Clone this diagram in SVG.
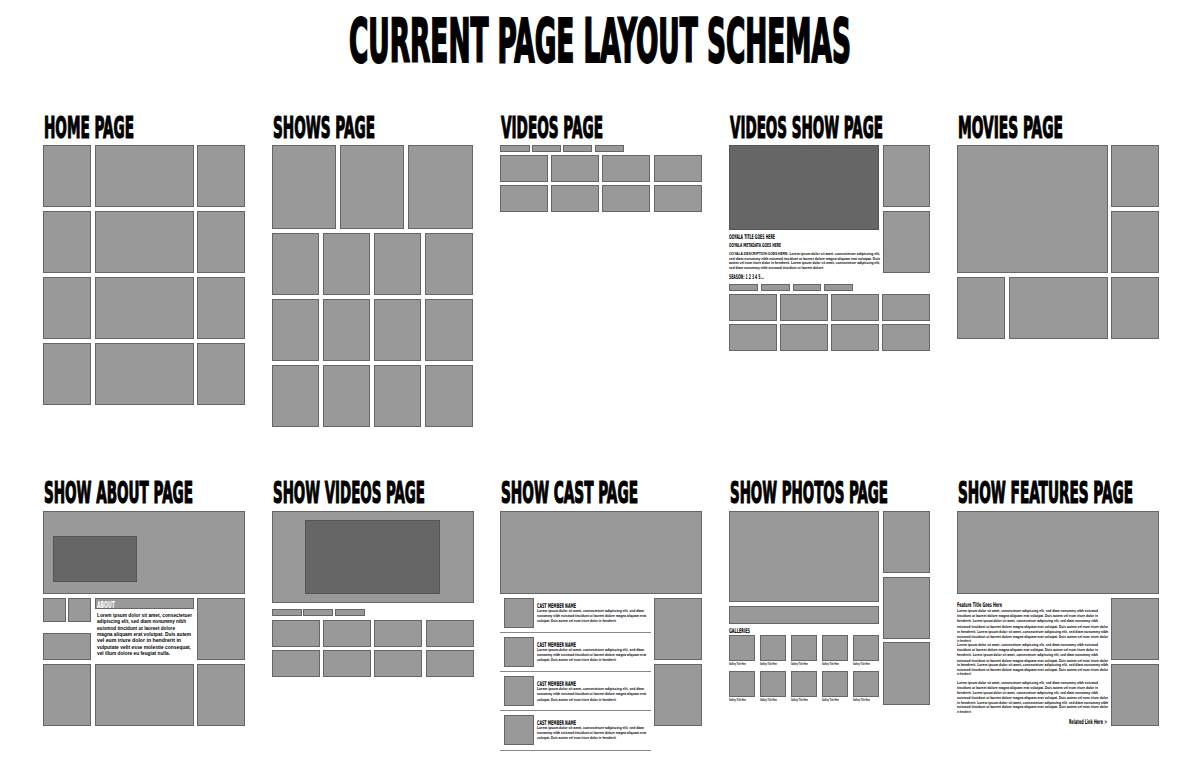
<svg xmlns="http://www.w3.org/2000/svg" width="1200" height="763" viewBox="0 0 1200 763">
<style>
.b{fill:#999;stroke:#666;stroke-width:1}
.d{fill:#666;stroke:#555;stroke-width:1}
.ln{stroke:#888;stroke-width:1.2}
.h{font-family:"Liberation Sans Narrow","DejaVu Sans Condensed","Liberation Sans",sans-serif;font-weight:bold;fill:#000}
.hd{font-family:"Liberation Sans Narrow","DejaVu Sans Condensed","Liberation Sans",sans-serif;font-weight:bold;fill:#000;stroke:#000;stroke-width:0.6;font-size:15px}
.t{font-family:"Liberation Sans","DejaVu Sans",sans-serif;font-weight:bold;fill:#000}
</style>
<rect width="1200" height="763" fill="#fff"/>
<text class="hd" transform="translate(349,62) scale(1,2.08)" x="0" y="0" style="font-size:29px;stroke-width:1" textLength="502" lengthAdjust="spacingAndGlyphs">CURRENT PAGE LAYOUT SCHEMAS</text>

<g id="home-page">
<text class="hd" transform="translate(44,138) scale(1,2)" textLength="90" lengthAdjust="spacingAndGlyphs">HOME PAGE</text>
<rect class="b" x="43.5" y="145.5" width="47" height="61"/><rect class="b" x="95.5" y="145.5" width="98" height="61"/><rect class="b" x="197.5" y="145.5" width="47" height="61"/>
<rect class="b" x="43.5" y="211.5" width="47" height="61"/><rect class="b" x="95.5" y="211.5" width="98" height="61"/><rect class="b" x="197.5" y="211.5" width="47" height="61"/>
<rect class="b" x="43.5" y="277.5" width="47" height="61"/><rect class="b" x="95.5" y="277.5" width="98" height="61"/><rect class="b" x="197.5" y="277.5" width="47" height="61"/>
<rect class="b" x="43.5" y="343.5" width="47" height="61"/><rect class="b" x="95.5" y="343.5" width="98" height="61"/><rect class="b" x="197.5" y="343.5" width="47" height="61"/>
</g>

<g id="shows-page">
<text class="hd" transform="translate(273,138) scale(1,2)" textLength="102" lengthAdjust="spacingAndGlyphs">SHOWS PAGE</text>
<rect class="b" x="272.5" y="145.5" width="63" height="83"/><rect class="b" x="340.5" y="145.5" width="63" height="83"/><rect class="b" x="408.5" y="145.5" width="64" height="83"/>
<rect class="b" x="272.5" y="233.5" width="46" height="61"/><rect class="b" x="323.5" y="233.5" width="46" height="61"/><rect class="b" x="374.5" y="233.5" width="46" height="61"/><rect class="b" x="425.5" y="233.5" width="47" height="61"/>
<rect class="b" x="272.5" y="299.5" width="46" height="61"/><rect class="b" x="323.5" y="299.5" width="46" height="61"/><rect class="b" x="374.5" y="299.5" width="46" height="61"/><rect class="b" x="425.5" y="299.5" width="47" height="61"/>
<rect class="b" x="272.5" y="365.5" width="46" height="61"/><rect class="b" x="323.5" y="365.5" width="46" height="61"/><rect class="b" x="374.5" y="365.5" width="46" height="61"/><rect class="b" x="425.5" y="365.5" width="47" height="61"/>
</g>

<g id="videos-page">
<text class="hd" transform="translate(501,138) scale(1,2)" textLength="102" lengthAdjust="spacingAndGlyphs">VIDEOS PAGE</text>
<rect class="b" x="500.5" y="145.5" width="29" height="6"/><rect class="b" x="532.5" y="145.5" width="28" height="6"/><rect class="b" x="563.5" y="145.5" width="28" height="6"/><rect class="b" x="595.5" y="145.5" width="28" height="6"/>
<rect class="b" x="500.5" y="155.5" width="47" height="26"/><rect class="b" x="551.5" y="155.5" width="47" height="26"/><rect class="b" x="602.5" y="155.5" width="47" height="26"/><rect class="b" x="654.5" y="155.5" width="47" height="26"/>
<rect class="b" x="500.5" y="185.5" width="47" height="26"/><rect class="b" x="551.5" y="185.5" width="47" height="26"/><rect class="b" x="602.5" y="185.5" width="47" height="26"/><rect class="b" x="654.5" y="185.5" width="47" height="26"/>
</g>

<g id="videos-show-page">
<text class="hd" transform="translate(730,138) scale(1,2)" textLength="153" lengthAdjust="spacingAndGlyphs">VIDEOS SHOW PAGE</text>
<rect class="d" x="729.5" y="145.5" width="149" height="84"/>
<rect class="b" x="883.5" y="145.5" width="46" height="61"/><rect class="b" x="883.5" y="211.5" width="46" height="61"/>
<text class="h" x="729" y="238.5" font-size="6.5" textLength="46" lengthAdjust="spacingAndGlyphs">OOYALA TITLE GOES HERE</text>
<text class="h" x="729" y="247" font-size="5.5" textLength="52" lengthAdjust="spacingAndGlyphs">OOYALA METADATA GOES HERE</text>
<text class="t" font-size="4.2">
<tspan x="729" y="255" textLength="151" lengthAdjust="spacingAndGlyphs">OOYALA DESCRIPTION GOES HERE: Lorem ipsum dolor sit amet, consectetuer adipiscing elit,</tspan>
<tspan x="729" y="259.5" textLength="151" lengthAdjust="spacingAndGlyphs">sed diam nonummy nibh euismod tincidunt ut laoreet dolore magna aliquam erat volutpat. Duis</tspan>
<tspan x="729" y="264" textLength="151" lengthAdjust="spacingAndGlyphs">autem vel eum iriure dolor in hendrerit. Lorem ipsum dolor sit amet, consectetuer adipiscing elit,</tspan>
<tspan x="729" y="268.5" textLength="95" lengthAdjust="spacingAndGlyphs">sed diam nonummy nibh euismod tincidunt ut laoreet dolore.</tspan>
</text>
<text class="h" x="729" y="279" font-size="6.5" textLength="35" lengthAdjust="spacingAndGlyphs">SEASON: 1 2 3 4 5...</text>
<rect class="b" x="729.5" y="284.5" width="28" height="6"/><rect class="b" x="761.5" y="284.5" width="28" height="6"/><rect class="b" x="793.5" y="284.5" width="27" height="6"/><rect class="b" x="824.5" y="284.5" width="28" height="6"/>
<rect class="b" x="729.5" y="294.5" width="47" height="26"/><rect class="b" x="780.5" y="294.5" width="47" height="26"/><rect class="b" x="831.5" y="294.5" width="47" height="26"/><rect class="b" x="882.5" y="294.5" width="47" height="26"/>
<rect class="b" x="729.5" y="324.5" width="47" height="26"/><rect class="b" x="780.5" y="324.5" width="47" height="26"/><rect class="b" x="831.5" y="324.5" width="47" height="26"/><rect class="b" x="882.5" y="324.5" width="47" height="26"/>
</g>

<g id="movies-page">
<text class="hd" transform="translate(958,138) scale(1,2)" textLength="105" lengthAdjust="spacingAndGlyphs">MOVIES PAGE</text>
<rect class="b" x="957.5" y="145.5" width="150" height="127"/>
<rect class="b" x="1111.5" y="145.5" width="47" height="61"/><rect class="b" x="1111.5" y="211.5" width="47" height="61"/>
<rect class="b" x="957.5" y="277.5" width="47" height="61"/><rect class="b" x="1009.5" y="277.5" width="98" height="61"/><rect class="b" x="1111.5" y="277.5" width="47" height="61"/>
</g>

<g id="show-about-page">
<text class="hd" transform="translate(44,503) scale(1,2)" textLength="149" lengthAdjust="spacingAndGlyphs">SHOW ABOUT PAGE</text>
<rect class="b" x="43.5" y="511.5" width="201" height="82"/>
<rect class="d" x="53.5" y="536.5" width="83" height="45"/>
<rect class="b" x="43.5" y="598.5" width="22" height="23"/><rect class="b" x="68.5" y="598.5" width="22" height="23"/>
<rect class="b" x="43.5" y="633.5" width="47" height="26"/>
<rect class="b" x="95.5" y="598.5" width="98" height="10"/>
<text class="h" x="97" y="607.5" font-size="9" style="fill:#fff" textLength="18" lengthAdjust="spacingAndGlyphs">ABOUT</text>
<text class="t" font-size="6">
<tspan x="97" y="617" textLength="95" lengthAdjust="spacingAndGlyphs">Lorem ipsum dolor sit amet, consectetuer</tspan>
<tspan x="97" y="623.3" textLength="89" lengthAdjust="spacingAndGlyphs">adipiscing elit, sed diam nonummy nibh</tspan>
<tspan x="97" y="629.6" textLength="78" lengthAdjust="spacingAndGlyphs">euismod tincidunt ut laoreet dolore</tspan>
<tspan x="97" y="635.9" textLength="94" lengthAdjust="spacingAndGlyphs">magna aliquam erat volutpat. Duis autem</tspan>
<tspan x="97" y="642.2" textLength="84" lengthAdjust="spacingAndGlyphs">vel eum iriure dolor in hendrerit in</tspan>
<tspan x="97" y="648.5" textLength="94" lengthAdjust="spacingAndGlyphs">vulputate velit esse molestie consequat,</tspan>
<tspan x="97" y="654.8" textLength="73" lengthAdjust="spacingAndGlyphs">vel illum dolore eu feugiat nulla.</tspan>
</text>
<rect class="b" x="197.5" y="598.5" width="47" height="61"/>
<rect class="b" x="43.5" y="664.5" width="47" height="61"/><rect class="b" x="95.5" y="664.5" width="98" height="61"/><rect class="b" x="197.5" y="664.5" width="47" height="61"/>
</g>

<g id="show-videos-page">
<text class="hd" transform="translate(273,503) scale(1,2)" textLength="152" lengthAdjust="spacingAndGlyphs">SHOW VIDEOS PAGE</text>
<rect class="b" x="272.5" y="511.5" width="201" height="91"/>
<rect class="d" x="305.5" y="520.5" width="134" height="73"/>
<rect class="b" x="272.5" y="609.5" width="29" height="6"/><rect class="b" x="303.5" y="609.5" width="29" height="6"/><rect class="b" x="335.5" y="609.5" width="29" height="6"/>
<rect class="b" x="272.5" y="620.5" width="47" height="26"/><rect class="b" x="323.5" y="620.5" width="47" height="26"/><rect class="b" x="374.5" y="620.5" width="47" height="26"/><rect class="b" x="426.5" y="620.5" width="47" height="26"/>
<rect class="b" x="272.5" y="650.5" width="47" height="26"/><rect class="b" x="323.5" y="650.5" width="47" height="26"/><rect class="b" x="374.5" y="650.5" width="47" height="26"/><rect class="b" x="426.5" y="650.5" width="47" height="26"/>
</g>

<g id="show-cast-page">
<text class="hd" transform="translate(501,503) scale(1,2)" textLength="137" lengthAdjust="spacingAndGlyphs">SHOW CAST PAGE</text>
<rect class="b" x="500.5" y="511.5" width="201" height="82"/>
<rect class="b" x="654.5" y="598.5" width="47" height="61"/><rect class="b" x="654.5" y="664.5" width="47" height="61"/>
<rect class="b" x="504.5" y="598.5" width="29" height="29"/>
<text class="h" x="537" y="607.5" font-size="6.5" textLength="39" lengthAdjust="spacingAndGlyphs">CAST MEMBER NAME</text>
<text class="t" font-size="4.2"><tspan x="537" y="612" textLength="107" lengthAdjust="spacingAndGlyphs">Lorem ipsum dolor sit amet, consectetuer adipiscing elit, sed diam</tspan><tspan x="537" y="617" textLength="109" lengthAdjust="spacingAndGlyphs">nonummy nibh euismod tincidunt ut laoreet dolore magna aliquam erat</tspan><tspan x="537" y="622" textLength="79" lengthAdjust="spacingAndGlyphs">volutpat. Duis autem vel eum iriure dolor in hendrerit</tspan></text>
<line class="ln" x1="500" y1="632.5" x2="651" y2="632.5"/>
<rect class="b" x="504.5" y="637.5" width="29" height="29"/>
<text class="h" x="537" y="646.5" font-size="6.5" textLength="39" lengthAdjust="spacingAndGlyphs">CAST MEMBER NAME</text>
<text class="t" font-size="4.2"><tspan x="537" y="651" textLength="107" lengthAdjust="spacingAndGlyphs">Lorem ipsum dolor sit amet, consectetuer adipiscing elit, sed diam</tspan><tspan x="537" y="656" textLength="109" lengthAdjust="spacingAndGlyphs">nonummy nibh euismod tincidunt ut laoreet dolore magna aliquam erat</tspan><tspan x="537" y="661" textLength="79" lengthAdjust="spacingAndGlyphs">volutpat. Duis autem vel eum iriure dolor in hendrerit</tspan></text>
<line class="ln" x1="500" y1="671.5" x2="651" y2="671.5"/>
<rect class="b" x="504.5" y="676.5" width="29" height="29"/>
<text class="h" x="537" y="685.5" font-size="6.5" textLength="39" lengthAdjust="spacingAndGlyphs">CAST MEMBER NAME</text>
<text class="t" font-size="4.2"><tspan x="537" y="690" textLength="107" lengthAdjust="spacingAndGlyphs">Lorem ipsum dolor sit amet, consectetuer adipiscing elit, sed diam</tspan><tspan x="537" y="695" textLength="109" lengthAdjust="spacingAndGlyphs">nonummy nibh euismod tincidunt ut laoreet dolore magna aliquam erat</tspan><tspan x="537" y="701" textLength="79" lengthAdjust="spacingAndGlyphs">volutpat. Duis autem vel eum iriure dolor in hendrerit</tspan></text>
<line class="ln" x1="500" y1="710.5" x2="651" y2="710.5"/>
<rect class="b" x="504.5" y="715.5" width="29" height="29"/>
<text class="h" x="537" y="724.5" font-size="6.5" textLength="39" lengthAdjust="spacingAndGlyphs">CAST MEMBER NAME</text>
<text class="t" font-size="4.2"><tspan x="537" y="729" textLength="107" lengthAdjust="spacingAndGlyphs">Lorem ipsum dolor sit amet, consectetuer adipiscing elit, sed diam</tspan><tspan x="537" y="734" textLength="109" lengthAdjust="spacingAndGlyphs">nonummy nibh euismod tincidunt ut laoreet dolore magna aliquam erat</tspan><tspan x="537" y="739" textLength="79" lengthAdjust="spacingAndGlyphs">volutpat. Duis autem vel eum iriure dolor in hendrerit</tspan></text>
<line class="ln" x1="500" y1="750.5" x2="651" y2="750.5"/>
</g>

<g id="show-photos-page">
<text class="hd" transform="translate(730,503) scale(1,2)" textLength="158" lengthAdjust="spacingAndGlyphs">SHOW PHOTOS PAGE</text>
<rect class="b" x="729.5" y="511.5" width="149" height="90"/>
<rect class="b" x="883.5" y="511.5" width="46" height="61"/><rect class="b" x="883.5" y="577.5" width="46" height="61"/><rect class="b" x="883.5" y="642.5" width="46" height="62"/>
<rect class="b" x="729.5" y="606.5" width="149" height="17"/>
<text class="h" x="729" y="632.5" font-size="6.5" textLength="21" lengthAdjust="spacingAndGlyphs">GALLERIES</text>
<rect class="b" x="729.5" y="635.5" width="25" height="25"/><rect class="b" x="760.5" y="635.5" width="25" height="25"/><rect class="b" x="791.5" y="635.5" width="25" height="25"/><rect class="b" x="822.5" y="635.5" width="25" height="25"/><rect class="b" x="853.5" y="635.5" width="25" height="25"/>
<text class="t" font-size="3"><tspan x="729" y="664.5" textLength="17" lengthAdjust="spacingAndGlyphs">Gallery Title Here</tspan><tspan x="760" y="664.5" textLength="17" lengthAdjust="spacingAndGlyphs">Gallery Title Here</tspan><tspan x="791" y="664.5" textLength="17" lengthAdjust="spacingAndGlyphs">Gallery Title Here</tspan><tspan x="822" y="664.5" textLength="17" lengthAdjust="spacingAndGlyphs">Gallery Title Here</tspan><tspan x="853" y="664.5" textLength="17" lengthAdjust="spacingAndGlyphs">Gallery Title Here</tspan></text>
<rect class="b" x="729.5" y="671.5" width="25" height="25"/><rect class="b" x="760.5" y="671.5" width="25" height="25"/><rect class="b" x="791.5" y="671.5" width="25" height="25"/><rect class="b" x="822.5" y="671.5" width="25" height="25"/><rect class="b" x="853.5" y="671.5" width="25" height="25"/>
<text class="t" font-size="3"><tspan x="729" y="700.5" textLength="17" lengthAdjust="spacingAndGlyphs">Gallery Title Here</tspan><tspan x="760" y="700.5" textLength="17" lengthAdjust="spacingAndGlyphs">Gallery Title Here</tspan><tspan x="791" y="700.5" textLength="17" lengthAdjust="spacingAndGlyphs">Gallery Title Here</tspan><tspan x="822" y="700.5" textLength="17" lengthAdjust="spacingAndGlyphs">Gallery Title Here</tspan><tspan x="853" y="700.5" textLength="17" lengthAdjust="spacingAndGlyphs">Gallery Title Here</tspan></text>
</g>

<g id="show-features-page">
<text class="hd" transform="translate(958,503) scale(1,2)" textLength="175" lengthAdjust="spacingAndGlyphs">SHOW FEATURES PAGE</text>
<rect class="b" x="957.5" y="511.5" width="201" height="82"/>
<rect class="b" x="1111.5" y="598.5" width="47" height="61"/><rect class="b" x="1111.5" y="664.5" width="47" height="61"/>
<text class="h" x="957" y="606.5" font-size="6.5" textLength="45" lengthAdjust="spacingAndGlyphs">Feature Title Goes Here</text>
<text class="t" font-size="4.2">
<tspan x="957" y="612" textLength="141" lengthAdjust="spacingAndGlyphs">Lorem ipsum dolor sit amet, consectetuer adipiscing elit, sed diam nonummy nibh euismod</tspan>
<tspan x="957" y="617" textLength="141" lengthAdjust="spacingAndGlyphs">tincidunt ut laoreet dolore magna aliquam erat volutpat. Duis autem vel eum iriure dolor in</tspan>
<tspan x="957" y="622" textLength="141" lengthAdjust="spacingAndGlyphs">hendrerit. Lorem ipsum dolor sit amet, consectetuer adipiscing elit, sed diam nonummy nibh</tspan>
<tspan x="957" y="627.5" textLength="151" lengthAdjust="spacingAndGlyphs">euismod tincidunt ut laoreet dolore magna aliquam erat volutpat. Duis autem vel eum iriure dolor</tspan>
<tspan x="957" y="632.5" textLength="151" lengthAdjust="spacingAndGlyphs">in hendrerit. Lorem ipsum dolor sit amet, consectetuer adipiscing elit, sed diam nonummy nibh</tspan>
<tspan x="957" y="637.5" textLength="151" lengthAdjust="spacingAndGlyphs">euismod tincidunt ut laoreet dolore magna aliquam erat volutpat. Duis autem vel eum iriure dolor</tspan>
<tspan x="957" y="642" textLength="14" lengthAdjust="spacingAndGlyphs">in hendrerit</tspan>
</text>
<text class="t" font-size="4.2">
<tspan x="957" y="646" textLength="141" lengthAdjust="spacingAndGlyphs">Lorem ipsum dolor sit amet, consectetuer adipiscing elit, sed diam nonummy nibh euismod</tspan>
<tspan x="957" y="651" textLength="141" lengthAdjust="spacingAndGlyphs">tincidunt ut laoreet dolore magna aliquam erat volutpat. Duis autem vel eum iriure dolor in</tspan>
<tspan x="957" y="656" textLength="141" lengthAdjust="spacingAndGlyphs">hendrerit. Lorem ipsum dolor sit amet, consectetuer adipiscing elit, sed diam nonummy nibh</tspan>
<tspan x="957" y="661.5" textLength="151" lengthAdjust="spacingAndGlyphs">euismod tincidunt ut laoreet dolore magna aliquam erat volutpat. Duis autem vel eum iriure dolor</tspan>
<tspan x="957" y="666" textLength="151" lengthAdjust="spacingAndGlyphs">in hendrerit. Lorem ipsum dolor sit amet, consectetuer adipiscing elit, sed diam nonummy nibh</tspan>
<tspan x="957" y="670.5" textLength="151" lengthAdjust="spacingAndGlyphs">euismod tincidunt ut laoreet dolore magna aliquam erat volutpat. Duis autem vel eum iriure dolor</tspan>
<tspan x="957" y="675" textLength="14" lengthAdjust="spacingAndGlyphs">in hendrerit</tspan>
</text>
<text class="t" font-size="4.2">
<tspan x="957" y="684" textLength="141" lengthAdjust="spacingAndGlyphs">Lorem ipsum dolor sit amet, consectetuer adipiscing elit, sed diam nonummy nibh euismod</tspan>
<tspan x="957" y="689" textLength="141" lengthAdjust="spacingAndGlyphs">tincidunt ut laoreet dolore magna aliquam erat volutpat. Duis autem vel eum iriure dolor in</tspan>
<tspan x="957" y="694" textLength="141" lengthAdjust="spacingAndGlyphs">hendrerit. Lorem ipsum dolor sit amet, consectetuer adipiscing elit, sed diam nonummy nibh</tspan>
<tspan x="957" y="699" textLength="151" lengthAdjust="spacingAndGlyphs">euismod tincidunt ut laoreet dolore magna aliquam erat volutpat. Duis autem vel eum iriure dolor</tspan>
<tspan x="957" y="703.5" textLength="151" lengthAdjust="spacingAndGlyphs">in hendrerit. Lorem ipsum dolor sit amet, consectetuer adipiscing elit, sed diam nonummy nibh</tspan>
<tspan x="957" y="708" textLength="151" lengthAdjust="spacingAndGlyphs">euismod tincidunt ut laoreet dolore magna aliquam erat volutpat. Duis autem vel eum iriure dolor</tspan>
<tspan x="957" y="712.5" textLength="14" lengthAdjust="spacingAndGlyphs">in hendrerit</tspan>
</text>
<text class="h" x="1069" y="723.5" font-size="6.5" textLength="38" lengthAdjust="spacingAndGlyphs">Related Link Here &gt;</text>
</g>

<g id="connectors"/>
</svg>
